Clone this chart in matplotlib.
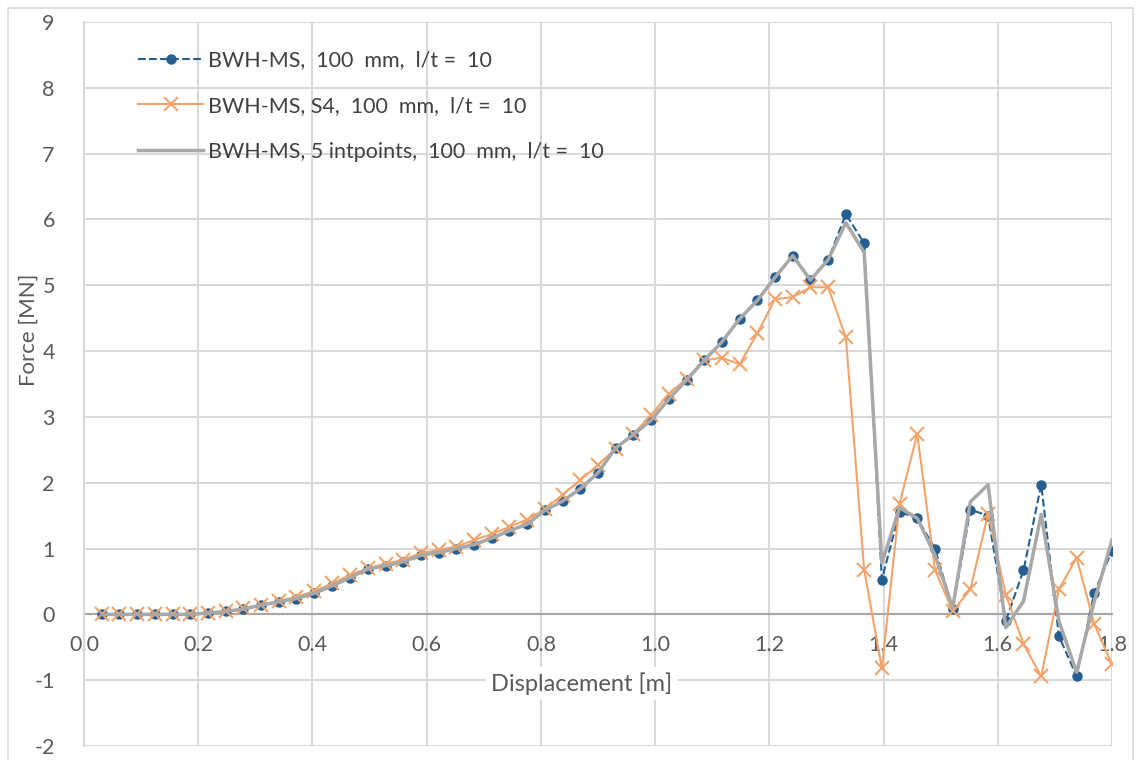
import numpy as np
import matplotlib
matplotlib.use("Agg")
import matplotlib.pyplot as plt
from matplotlib.patches import Rectangle

plt.rcParams['font.family'] = ['Lato', 'DejaVu Sans']
plt.rcParams['axes.unicode_minus'] = False

# displacement steps [m]
disp = [0.031, 0.062, 0.093, 0.124, 0.155, 0.186, 0.217, 0.248, 0.279, 0.310,
        0.341, 0.372, 0.403, 0.434, 0.466, 0.497, 0.528, 0.559, 0.590, 0.621,
        0.652, 0.683, 0.714, 0.745, 0.776, 0.807, 0.838, 0.869, 0.900, 0.931,
        0.962, 0.993, 1.024, 1.055, 1.086, 1.117, 1.148, 1.179, 1.210, 1.241,
        1.272, 1.303, 1.334, 1.366, 1.397, 1.428, 1.459, 1.490, 1.521, 1.552,
        1.583, 1.614, 1.645, 1.676, 1.707, 1.738, 1.769, 1.800]

f_ms = [0, 0, 0, 0, 0, 0, 0.02, 0.045, 0.08, 0.14,
        0.19, 0.24, 0.32, 0.43, 0.56, 0.69, 0.74, 0.80, 0.90, 0.94,
        1.00, 1.06, 1.16, 1.27, 1.37, 1.58, 1.72, 1.91, 2.15, 2.53,
        2.73, 2.95, 3.27, 3.56, 3.86, 4.14, 4.49, 4.77, 5.12, 5.45,
        5.08, 5.39, 6.08, 5.64, 0.53, 1.56, 1.46, 1.00, 0.08, 1.59,
        1.50, -0.10, 0.67, 1.97, -0.33, -0.94, 0.33, 0.97]

f_s4 = [0, 0, 0, 0, 0, 0, 0.02, 0.05, 0.09, 0.14,
        0.20, 0.27, 0.35, 0.47, 0.60, 0.70, 0.77, 0.83, 0.93, 0.98,
        1.03, 1.13, 1.22, 1.33, 1.44, 1.60, 1.82, 2.04, 2.27, 2.52,
        2.74, 3.03, 3.35, 3.58, 3.86, 3.90, 3.80, 4.27, 4.79, 4.82,
        4.97, 4.97, 4.21, 0.68, -0.82, 1.68, 2.74, 0.68, 0.05, 0.38,
        1.53, 0.30, -0.45, -0.94, 0.38, 0.86, -0.15, -0.76]

f_5ip = [0, 0, 0, 0, 0, 0, 0.02, 0.045, 0.08, 0.14,
         0.19, 0.24, 0.32, 0.43, 0.56, 0.69, 0.74, 0.80, 0.90, 0.94,
         1.00, 1.06, 1.16, 1.27, 1.37, 1.58, 1.72, 1.91, 2.15, 2.53,
         2.73, 2.95, 3.27, 3.56, 3.86, 4.14, 4.49, 4.77, 5.12, 5.45,
         5.08, 5.39, 5.95, 5.50, 0.78, 1.62, 1.46, 0.90, 0.10, 1.71,
         1.97, -0.20, 0.20, 1.52, -0.10, -0.88, 0.20, 1.13]

labels = ['BWH-MS,  100  mm,  l/t =  10',
          'BWH-MS, S4,  100  mm,  l/t =  10',
          'BWH-MS, 5 intpoints,  100  mm,  l/t =  10']

fig = plt.figure(figsize=(11.41, 7.60), dpi=100)
# outer chart frame
fig.patches.append(Rectangle((8 / 1141, -0.02), 1125 / 1141, 1.02 - 8 / 760,
                             transform=fig.transFigure, fill=False,
                             edgecolor='#d9d9d9', lw=1.2))
ax = fig.add_axes([0.0736, 0.0184, 0.9010, 0.9526])

ax.plot(disp, f_ms, color='#255E91', ls='--', lw=1.5, marker='o', ms=6.5,
        label=labels[0], zorder=3)
ax.plot(disp, f_s4, color='#F2A46B', ls='-', lw=1.5, marker='x', ms=10,
        mew=1.5, label=labels[1], zorder=4)
ax.plot(disp, f_5ip, color='#A8A8A8', ls='-', lw=2.5, label=labels[2], zorder=5)

ax.set_xlim(0, 1.8)
ax.set_ylim(-2, 9)
ax.set_xticks(np.arange(0, 1.81, 0.2))
ax.set_yticks(np.arange(-2, 10, 1))
ax.xaxis.set_major_formatter(plt.FormatStrFormatter('%.1f'))
ax.grid(True, color='#d9d9d9', lw=1.5)
ax.set_axisbelow(True)

for s in ['top', 'right']:
    ax.spines[s].set_visible(False)
ax.spines['left'].set_color('#d9d9d9')
ax.spines['left'].set_linewidth(1.5)
ax.spines['bottom'].set_position(('data', 0))
ax.spines['bottom'].set_color('#a6a6a6')
ax.spines['bottom'].set_linewidth(1.5)
ax.spines['bottom'].set_zorder(2)
ax.tick_params(axis='x', length=0, pad=15, labelsize=15.5, labelcolor='#595959')
ax.tick_params(axis='y', length=0, pad=21, labelsize=15.5, labelcolor='#595959')

ax.set_ylabel('Force [MN]', fontsize=16, color='#595959')
ax.yaxis.set_label_coords(-0.044, 0.575)
ax.text(0.872, -1.05, 'Displacement [m]', fontsize=17, color='#595959',
        ha='center', va='center', zorder=6,
        bbox=dict(facecolor='white', edgecolor='none', pad=4))

ax.legend(loc='upper left', bbox_to_anchor=(0.034, 0.988), frameon=False,
          fontsize=15.5, handlelength=3.0, handletextpad=0.25,
          labelspacing=1.2, labelcolor='#404040')

fig.savefig('out.png', dpi=100)
